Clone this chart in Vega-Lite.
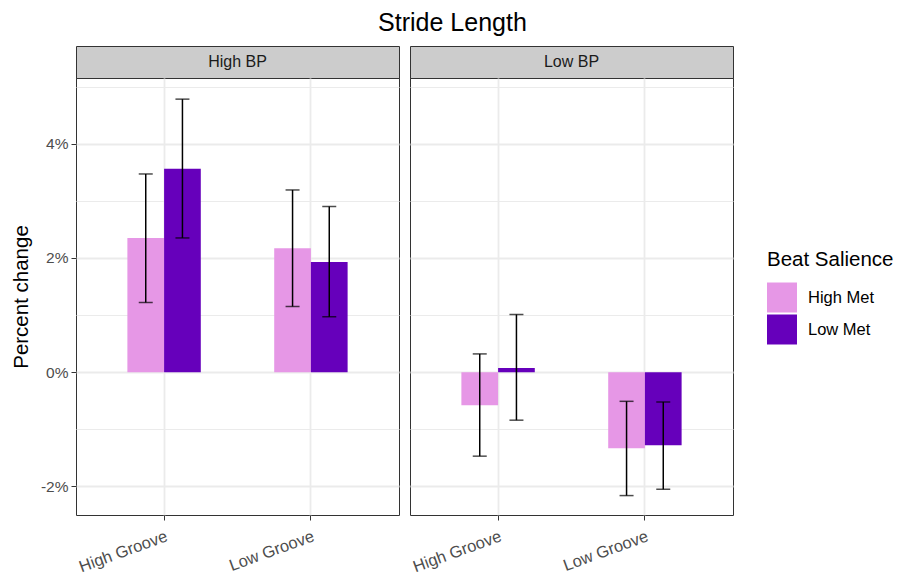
{
  "$schema": "https://vega.github.io/schema/vega-lite/v6.json",
  "padding": {"left": 10, "top": 10, "right": 5, "bottom": 5},
  "background": "white",
  "title": {"text": "Stride Length", "fontSize": 25, "fontWeight": "normal", "font": "Liberation Sans", "color": "black", "anchor": "middle", "offset": 10},
  "datasets": {
    "stride": [
      {"bp": "High BP", "groove": "High Groove", "met": "High Met", "mean": 2.35, "lo": 1.22, "hi": 3.47},
      {"bp": "High BP", "groove": "High Groove", "met": "Low Met", "mean": 3.56, "lo": 2.35, "hi": 4.78},
      {"bp": "High BP", "groove": "Low Groove", "met": "High Met", "mean": 2.17, "lo": 1.15, "hi": 3.19},
      {"bp": "High BP", "groove": "Low Groove", "met": "Low Met", "mean": 1.93, "lo": 0.97, "hi": 2.90},
      {"bp": "Low BP", "groove": "High Groove", "met": "High Met", "mean": -0.58, "lo": -1.47, "hi": 0.32},
      {"bp": "Low BP", "groove": "High Groove", "met": "Low Met", "mean": 0.075, "lo": -0.84, "hi": 1.01},
      {"bp": "Low BP", "groove": "Low Groove", "met": "High Met", "mean": -1.33, "lo": -2.16, "hi": -0.51},
      {"bp": "Low BP", "groove": "Low Groove", "met": "Low Met", "mean": -1.28, "lo": -2.05, "hi": -0.52}
    ]
  },
  "columns": 2,
  "bounds": "flush",
  "spacing": {"row": 0, "column": 11},
  "concat": [
    {
      "width": 323, "height": 32,
      "view": {"fill": "#CCCCCC", "stroke": "#333333"},
      "data": {"values": [{"bp": "High BP"}]},
      "mark": {"type": "text", "fontSize": 16, "color": "#1A1A1A", "font": "Liberation Sans", "baseline": "middle", "align": "center"},
      "encoding": {"text": {"field": "bp", "type": "nominal"}}
    },
    {
      "width": 323, "height": 32,
      "view": {"fill": "#CCCCCC", "stroke": "#333333"},
      "data": {"values": [{"bp": "Low BP"}]},
      "mark": {"type": "text", "fontSize": 16, "color": "#1A1A1A", "font": "Liberation Sans", "baseline": "middle", "align": "center"},
      "encoding": {"text": {"field": "bp", "type": "nominal"}}
    },
    {
      "width": 323, "height": 437,
      "data": {"name": "stride"},
      "transform": [{"filter": "datum.bp === 'High BP'"}],
      "encoding": {
        "x": {"field": "groove", "type": "nominal", "title": null,
              "scale": {"paddingInner": 0.5, "paddingOuter": 0.35},
              "axis": {"labelAngle": -20, "labelAlign": "right", "labelBaseline": "top", "labelPadding": 8, "labelFontSize": 16.5, "grid": true, "bandPosition": 0.5, "gridWidth": 1.8}},
        "xOffset": {"field": "met", "type": "nominal"}
      },
      "layer": [
        {
          "mark": {"type": "bar"},
          "encoding": {
            "y": {"field": "mean", "type": "quantitative", "title": "Percent change",
                  "scale": {"domain": [-2.5, 5.15], "nice": false, "zero": false},
                  "axis": {"values": [-2, -1, 0, 1, 2, 3, 4, 5], "labelExpr": "datum.value % 2 === 0 ? datum.value + '%' : ''",
                           "tickOpacity": {"condition": {"test": "datum.value % 2 !== 0", "value": 0}, "value": 1},
                           "gridWidth": {"condition": {"test": "datum.value % 2 !== 0", "value": 1}, "value": 1.8},
                           "titlePadding": 9, "labelPadding": 3}},
            "color": {"field": "met", "type": "nominal", "title": "Beat Salience",
                      "scale": {"domain": ["High Met", "Low Met"], "range": ["#E697E6", "#6600BB"]}}
          }
        },
        {
          "mark": {"type": "rule", "color": "black", "strokeWidth": 1.5},
          "encoding": {"y": {"field": "lo", "type": "quantitative", "title": "Percent change"}, "y2": {"field": "hi"}}
        },
        {
          "mark": {"type": "tick", "orient": "horizontal", "size": 14, "thickness": 1.5, "color": "black"},
          "encoding": {"y": {"field": "lo", "type": "quantitative", "title": "Percent change"}}
        },
        {
          "mark": {"type": "tick", "orient": "horizontal", "size": 14, "thickness": 1.5, "color": "black"},
          "encoding": {"y": {"field": "hi", "type": "quantitative", "title": "Percent change"}}
        }
      ]
    },
    {
      "width": 323, "height": 437,
      "data": {"name": "stride"},
      "transform": [{"filter": "datum.bp === 'Low BP'"}],
      "encoding": {
        "x": {"field": "groove", "type": "nominal", "title": null,
              "scale": {"paddingInner": 0.5, "paddingOuter": 0.35},
              "axis": {"labelAngle": -20, "labelAlign": "right", "labelBaseline": "top", "labelPadding": 8, "labelFontSize": 16.5, "grid": true, "bandPosition": 0.5, "gridWidth": 1.8}},
        "xOffset": {"field": "met", "type": "nominal"}
      },
      "layer": [
        {
          "mark": {"type": "bar"},
          "encoding": {
            "y": {"field": "mean", "type": "quantitative", "title": null,
                  "scale": {"domain": [-2.5, 5.15], "nice": false, "zero": false},
                  "axis": {"values": [-2, -1, 0, 1, 2, 3, 4, 5], "labels": false, "ticks": false, "title": null,
                           "gridWidth": {"condition": {"test": "datum.value % 2 !== 0", "value": 1}, "value": 1.8}}},
            "color": {"field": "met", "type": "nominal", "title": "Beat Salience",
                      "scale": {"domain": ["High Met", "Low Met"], "range": ["#E697E6", "#6600BB"]}}
          }
        },
        {
          "mark": {"type": "rule", "color": "black", "strokeWidth": 1.5},
          "encoding": {"y": {"field": "lo", "type": "quantitative", "title": null}, "y2": {"field": "hi"}}
        },
        {
          "mark": {"type": "tick", "orient": "horizontal", "size": 14, "thickness": 1.5, "color": "black"},
          "encoding": {"y": {"field": "lo", "type": "quantitative", "title": null}}
        },
        {
          "mark": {"type": "tick", "orient": "horizontal", "size": 14, "thickness": 1.5, "color": "black"},
          "encoding": {"y": {"field": "hi", "type": "quantitative", "title": null}}
        }
      ]
    }
  ],
  "config": {
    "font": "Liberation Sans",
    "view": {"stroke": "#333333", "strokeWidth": 1},
    "axis": {
      "labelFont": "Liberation Sans", "labelFontSize": 15.5, "labelColor": "#4D4D4D",
      "tickColor": "#333333", "tickSize": 5, "tickWidth": 1, "domain": false,
      "gridColor": "#EBEBEB",
      "titleFont": "Liberation Sans", "titleFontSize": 20.5, "titleFontWeight": "normal", "titleColor": "black"
    },
    "legend": {
      "orient": "none", "legendX": 691, "legendY": 204,
      "titleFont": "Liberation Sans", "titleFontSize": 20.5, "titleFontWeight": "normal", "titleColor": "black", "titlePadding": 12,
      "labelFont": "Liberation Sans", "labelFontSize": 16.5, "labelColor": "black", "labelOffset": 11,
      "symbolType": "square", "symbolSize": 900, "symbolStrokeWidth": 0, "rowPadding": 2
    }
  }
}
